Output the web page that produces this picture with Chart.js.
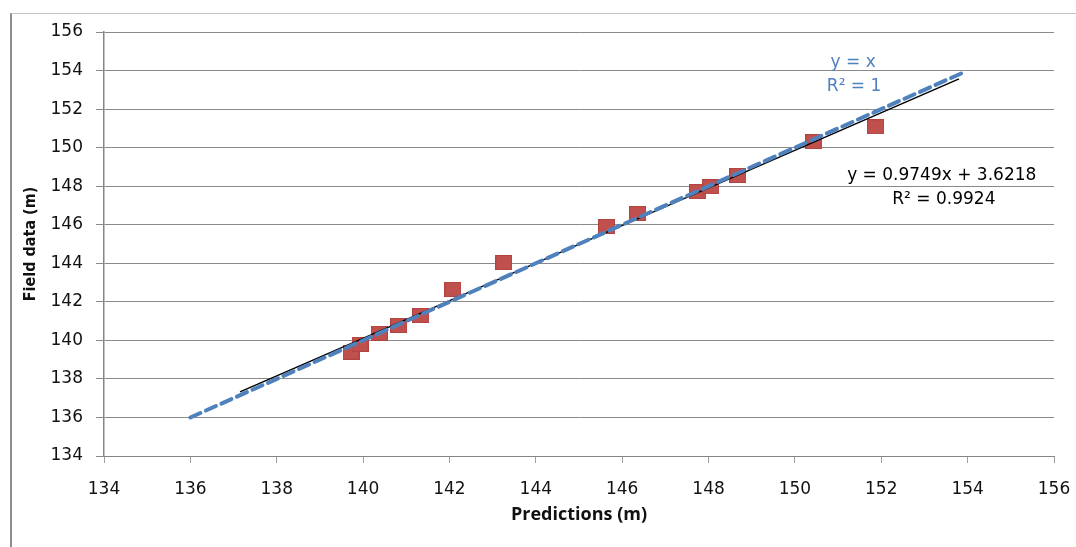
<!DOCTYPE html>
<html>
<head>
<meta charset="utf-8">
<script src="https://cdn.jsdelivr.net/npm/chart.js@4"></script>
<style>
  body { margin: 0; background: #fff; }
  #frame { position: absolute; left: 10px; top: 13px; width: 1066px; height: 534px;
           border-left: 2px solid #8c8c8c; border-top: 1px solid #c4c4c4; box-sizing: border-box; }
  #wrap { position: absolute; left: 0; top: 0; width: 1076px; height: 547px; }
</style>
</head>
<body>
<div id="frame"></div>
<div id="wrap"><canvas id="canvas" width="1076" height="547"></canvas></div>
<script>
	// measured points
	var predicted = [139.72, 139.93, 140.37, 140.83, 141.34, 142.08, 143.26, 145.64, 146.36, 147.75, 148.05, 148.68, 150.44, 151.87];
	var field = [139.39, 139.80, 140.37, 140.78, 141.30, 142.65, 144.04, 145.91, 146.58, 147.72, 147.98, 148.55, 150.31, 151.08];

	// y = x reference line (ends)
	var idealX = [136, 153.85];
	var idealY = [136, 153.85];

	// fitted trendline (ends)
	var fitX = [137.15, 153.8];
	var fitY = [137.33, 153.57];

	var axisMin = 134, axisMax = 156, axisStep = 2;

	var notes = ['y = x', 'R² = 1', 'y = 0.9749x + 3.6218', 'R² = 0.9924'];

	function pairs(xs, ys) {
		var out = [];
		for (var i = 0; i < xs.length; i++) out.push({ x: xs[i], y: ys[i] });
		return out;
	}

	// red square marker (slightly wider than tall like the source)
	var marker = document.createElement('canvas');
	marker.width = 17; marker.height = 15;
	var mctx = marker.getContext('2d');
	mctx.fillStyle = '#c0504d';
	mctx.fillRect(0, 0, 17, 15);
	mctx.strokeStyle = '#b24441';
	mctx.strokeRect(0.5, 0.5, 16, 14);

	var notesPlugin = {
		id: 'notes',
		afterDatasetsDraw: function(chart) {
			var c = chart.ctx, xs = chart.scales.x, ys = chart.scales.y;
			c.save();
			c.font = '17px "DejaVu Sans"';
			c.textAlign = 'center';
			c.textBaseline = 'middle';
			c.fillStyle = '#4f81bd';
			c.fillText(notes[0], xs.getPixelForValue(151.35), ys.getPixelForValue(154.4));
			c.fillText(notes[1], xs.getPixelForValue(151.37), ys.getPixelForValue(153.15));
			c.fillStyle = '#000';
			c.fillText(notes[2], xs.getPixelForValue(153.4), ys.getPixelForValue(148.55));
			c.fillText(notes[3], xs.getPixelForValue(153.45), ys.getPixelForValue(147.3));
			c.restore();
		}
	};

	window.onload = function() {
		var ctx = document.getElementById('canvas').getContext('2d');
		window.myChart = new Chart(ctx, {
			type: 'scatter',
			data: {
				datasets: [{
					label: 'y = x',
					type: 'line',
					data: pairs(idealX, idealY),
					borderColor: '#4f81bd',
					borderWidth: 4,
					borderDash: [11, 6],
					borderCapStyle: 'round',
					pointRadius: 0,
					fill: false,
					order: 0
				}, {
					label: 'Linear fit',
					type: 'line',
					data: pairs(fitX, fitY),
					borderColor: '#000',
					borderWidth: 1.5,
					pointRadius: 0,
					fill: false,
					order: 1
				}, {
					label: 'Field data',
					data: pairs(predicted, field),
					pointStyle: marker,
					pointRadius: 8,
					order: 2
				}]
			},
			plugins: [notesPlugin],
			options: {
				responsive: false,
				animation: false,
				layout: { padding: { left: 0, right: 22, top: 32, bottom: 0 } },
				plugins: {
					legend: { display: false },
					tooltip: { enabled: false }
				},
				scales: {
					x: {
						type: 'linear',
						min: axisMin,
						max: axisMax,
						afterFit: function(s) { s.height = 91; s.paddingLeft = 0; s.paddingRight = 0; },
						border: { color: '#868686', width: 1 },
						grid: { drawOnChartArea: false, tickLength: 7, tickColor: '#a0a0a0' },
						ticks: { stepSize: axisStep, padding: 16, color: '#111', font: { family: 'DejaVu Sans', size: 17 } },
						title: {
							display: true,
							text: 'Predictions (m)',
							color: '#111',
							font: { family: 'Open Sans', size: 18, weight: 'bold' },
							padding: { top: 0, bottom: 21 }
						}
					},
					y: {
						type: 'linear',
						min: axisMin,
						max: axisMax,
						afterFit: function(s) { s.width = 104; s.paddingTop = 0; s.paddingBottom = 0; },
						border: { color: '#868686', width: 1.5 },
						grid: { color: '#8a8a8a', tickLength: 8, tickColor: '#8a8a8a' },
						ticks: { stepSize: axisStep, padding: 13, color: '#111', font: { family: 'DejaVu Sans', size: 17 } },
						title: {
							display: true,
							text: 'Field data (m)',
							color: '#111',
							font: { family: "'Liberation Sans Narrow', 'DejaVu Sans Condensed', sans-serif", size: 16, weight: 'bold' },
							padding: { top: 21, bottom: 0 }
						}
					}
				}
			}
		});
	};
</script>
</body>
</html>
